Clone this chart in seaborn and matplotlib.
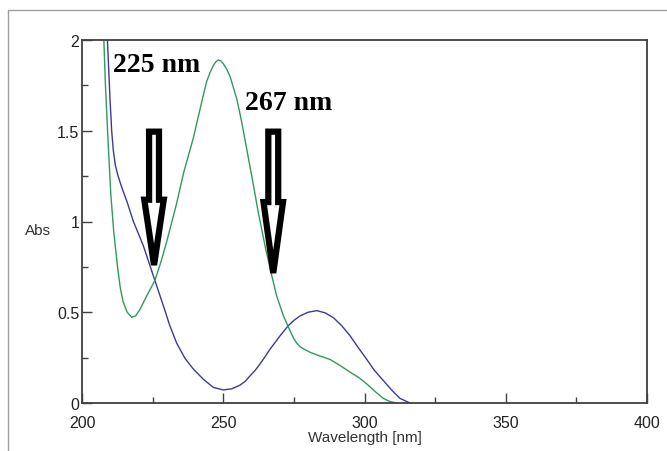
import numpy as np
import matplotlib
matplotlib.use("Agg")
import matplotlib.pyplot as plt
from matplotlib.patches import FancyArrow
from matplotlib.lines import Line2D
from matplotlib.ticker import MultipleLocator, FormatStrFormatter
import seaborn as sns

# green spectrum (nm, Abs)
green_wl = [207.5, 208.3, 209.2, 210.2, 211.2, 212.5, 213.5, 214.5, 216.0, 217.6,
            219.0, 220.5, 222.9, 225.8, 228.0, 230.0, 233.5, 236.0, 239.4, 241.8,
            243.0, 244.1, 245.3, 246.5, 247.4, 248.2, 249.1, 250.0, 251.2, 252.4,
            254.8, 256.5, 258.3, 260.1, 262.4, 265.0, 267.2, 268.9, 271.3, 273.0,
            274.8, 276.0, 277.2, 278.8, 280.7, 284.0, 287.8, 291.0, 294.9, 298.0,
            300.8, 304.0, 306.7, 309.0, 311.4]
green_abs = [2.10, 1.75, 1.45, 1.15, 0.95, 0.76, 0.64, 0.56, 0.50, 0.472,
             0.48, 0.515, 0.59, 0.675, 0.78, 0.89, 1.10, 1.27, 1.46, 1.62,
             1.70, 1.77, 1.82, 1.86, 1.88, 1.89, 1.885, 1.87, 1.84, 1.80,
             1.675, 1.55, 1.40, 1.25, 1.05, 0.85, 0.70, 0.59, 0.48, 0.42,
             0.36, 0.33, 0.31, 0.295, 0.28, 0.26, 0.24, 0.21, 0.17, 0.14,
             0.105, 0.06, 0.025, 0.008, 0.0]

# blue spectrum (nm, Abs)
blue_wl = [208.0, 209.0, 209.9, 210.5, 211.1, 211.8, 212.6, 213.5, 214.6, 215.8,
           218.2, 221.7, 225.8, 228.8, 231.0, 233.5, 236.5, 239.4, 243.0, 246.5,
           250.0, 253.0, 255.9, 257.8, 259.5, 261.3, 263.0, 264.8, 266.5, 270.1,
           273.0, 275.0, 277.2, 280.0, 283.1, 286.0, 289.0, 292.0, 294.9, 297.8,
           300.8, 303.5, 306.7, 310.0, 312.6, 316.1]
blue_abs = [2.30, 2.00, 1.68, 1.50, 1.39, 1.31, 1.26, 1.215, 1.165, 1.115,
            1.00, 0.867, 0.675, 0.536, 0.43, 0.33, 0.245, 0.187, 0.13, 0.086,
            0.072, 0.078, 0.098, 0.12, 0.15, 0.18, 0.215, 0.255, 0.295, 0.37,
            0.426, 0.455, 0.48, 0.50, 0.509, 0.497, 0.47, 0.425, 0.37, 0.305,
            0.24, 0.18, 0.123, 0.065, 0.025, 0.0]

# marked wavelengths and arrow geometry
mark_labels = ["225 nm", "267 nm"]
arrow_x = [225.5, 267.7]
arrow_top = [1.495, 1.495]
arrow_tip = [0.76, 0.716]
head_base = [1.12, 1.107]
label_pos = [(211.0, 1.83), (257.7, 1.62)]

sns.set_style("white")
plt.rcParams["font.family"] = ["Liberation Sans", "DejaVu Sans"]

fig = plt.figure(figsize=(6.67, 4.52), dpi=100)
ax = fig.add_axes([82 / 667, 1 - 404 / 452, 565 / 667, 363 / 452])

sns.lineplot(x=blue_wl, y=blue_abs, ax=ax, color="#3b3b94", lw=1.0,
             sort=False, estimator=None)
sns.lineplot(x=green_wl, y=green_abs, ax=ax, color="#2e9b5c", lw=1.0,
             sort=False, estimator=None)

ax.set_xlim(200, 400)
ax.set_ylim(0, 2)
ax.xaxis.set_major_locator(MultipleLocator(50))
ax.xaxis.set_minor_locator(MultipleLocator(25))
ax.yaxis.set_major_locator(MultipleLocator(0.5))
ax.yaxis.set_minor_locator(MultipleLocator(0.25))
ax.yaxis.set_major_formatter(FormatStrFormatter("%g"))
ax.tick_params(which="both", direction="in", bottom=True, left=True,
               top=False, right=False, color="#404040", width=1.0,
               labelsize=11.5, labelcolor="#222222", pad=2)
ax.tick_params(axis="x", which="major", pad=9)
ax.tick_params(which="major", length=7)
ax.tick_params(which="minor", length=4)
for s in ax.spines.values():
    s.set_color("#404040")
    s.set_linewidth(1.3)

ax.set_xlabel("Wavelength [nm]", fontsize=11, color="#333333")
ax.xaxis.set_label_coords(0.5, -0.094)
ax.xaxis.label.set_va("center")
ax.set_ylabel("Abs", fontsize=11, color="#333333", rotation=0,
              ha="center", va="center")
ax.yaxis.set_label_coords(-0.078, 0.477)

# hollow block arrows and labels
for xa, top, tip, hb, lab, (tx, ty) in zip(arrow_x, arrow_top, arrow_tip,
                                           head_base, mark_labels, label_pos):
    arr = FancyArrow(xa, top, 0, -(top - tip), width=3.5, head_width=6.9,
                     head_length=hb - tip, length_includes_head=True,
                     fc="white", ec="black", lw=4.5, joinstyle="miter",
                     zorder=5, clip_on=False)
    ax.add_patch(arr)
    ax.text(tx, ty, lab, fontsize=20, fontweight="bold", va="baseline",
            ha="left", family=["Liberation Serif", "DejaVu Serif"],
            color="black", zorder=6)

# outer window frame
fx, fy = 8 / 667, 1 - 11 / 452
fig.add_artist(Line2D([fx, fx], [0, fy], transform=fig.transFigure,
                      color="#a0a0a0", lw=1.0))
fig.add_artist(Line2D([fx, 1], [fy, fy], transform=fig.transFigure,
                      color="#a0a0a0", lw=1.0))

fig.savefig("out.png", dpi=100)
plt.close(fig)
